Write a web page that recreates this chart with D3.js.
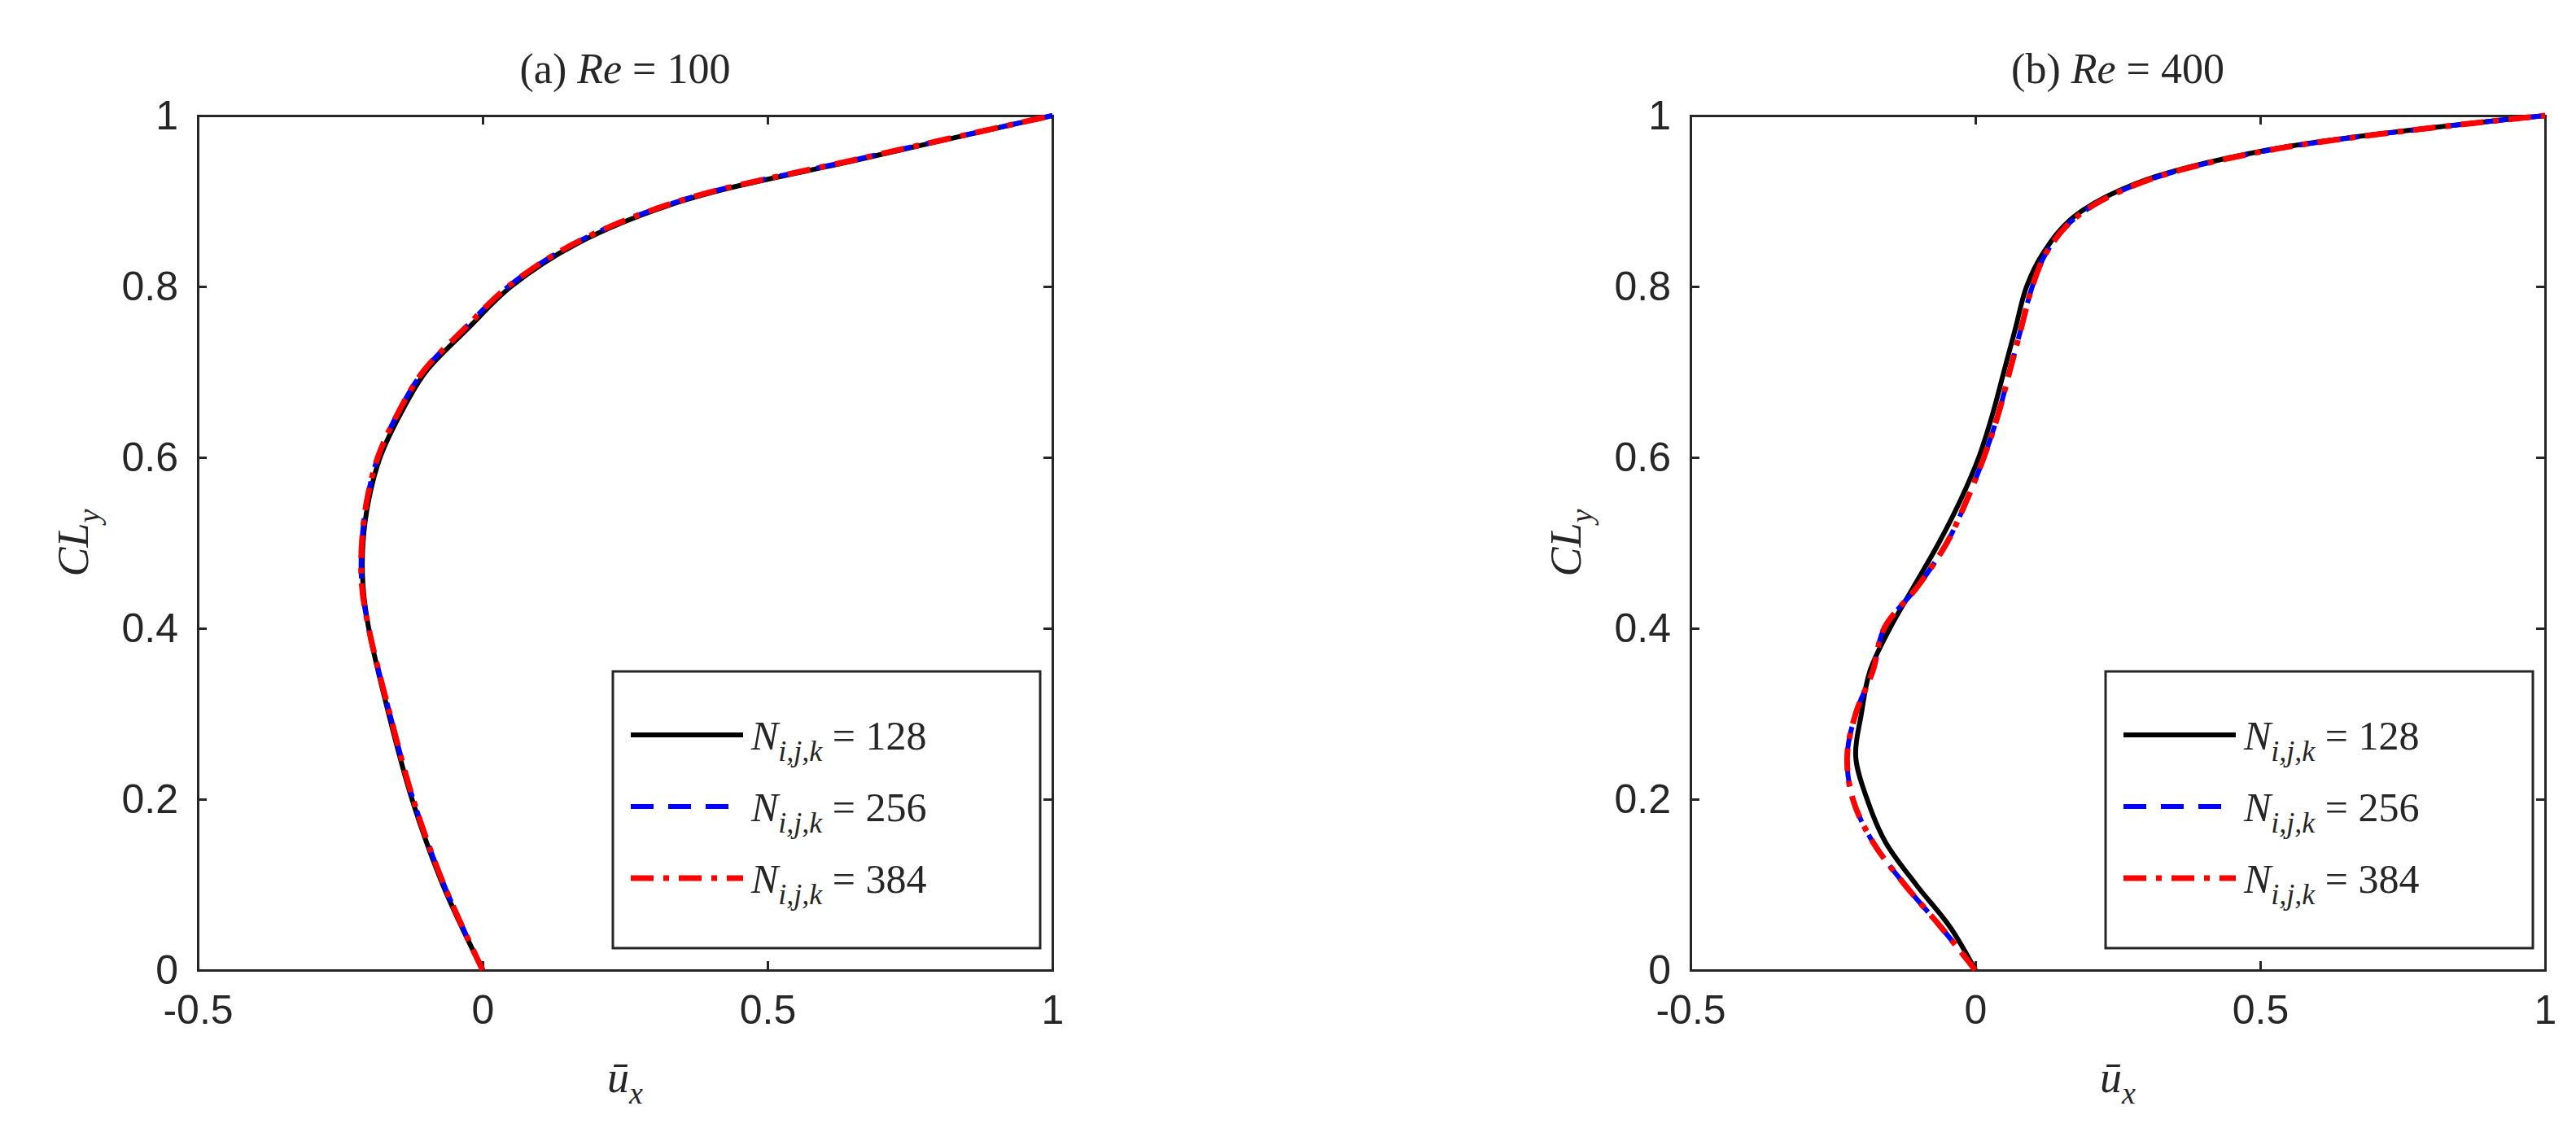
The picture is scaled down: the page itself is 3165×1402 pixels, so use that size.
<!DOCTYPE html>
<html>
<head>
<meta charset="utf-8">
<script src="https://cdn.jsdelivr.net/npm/d3@7"></script>
<style>
body { margin: 0; background: #fff; }
text { fill: #262626; }
</style>
</head>
<body>
<svg id="chart" width="3165" height="1402"></svg>
<script>
// CL_y positions shared by the profiles
const yA = [0, 0.1, 0.2, 0.3, 0.4, 0.45, 0.5, 0.55, 0.6, 0.65, 0.7, 0.75, 0.8, 0.85, 0.9, 0.95, 1.0];
const uA128 = [0, -0.07, -0.124, -0.165, -0.2, -0.21, -0.21, -0.2, -0.18, -0.145, -0.1, -0.027, 0.05, 0.165, 0.35, 0.67, 1.0];
const uA384 = [0, -0.068, -0.122, -0.163, -0.2, -0.212, -0.212, -0.203, -0.184, -0.15, -0.105, -0.033, 0.045, 0.16, 0.345, 0.665, 1.0];

const yB = [0, 0.05, 0.1, 0.15, 0.2, 0.25, 0.3, 0.35, 0.4, 0.45, 0.5, 0.55, 0.6, 0.65, 0.7, 0.75, 0.8, 0.84, 0.88, 0.92, 0.96, 1.0];
const uB128 = [0, -0.044, -0.104, -0.158, -0.19, -0.21, -0.2, -0.185, -0.15, -0.107, -0.064, -0.026, 0.006, 0.03, 0.05, 0.07, 0.09, 0.12, 0.17, 0.28, 0.515, 1.0];
const uB384 = [0, -0.06, -0.124, -0.18, -0.215, -0.225, -0.21, -0.18, -0.16, -0.1, -0.05, -0.015, 0.015, 0.04, 0.06, 0.08, 0.1, 0.125, 0.175, 0.285, 0.52, 1.0];

const xTicks = [-0.5, 0, 0.5, 1];
const yTicks = [0, 0.2, 0.4, 0.6, 0.8, 1];
const legendLabels = ['128', '256', '384'];

const panels = [
  { left: 243, tag: '(a)', re: '100', y: yA, s: [uA128, uA384, uA384] },
  { left: 2077, tag: '(b)', re: '400', y: yB, s: [uB128, uB384, uB384] }
];
const plotTop = 142, size = 1050;
const styles = [
  { color: '#000', width: 6, dash: null },
  { color: '#0000ff', width: 6, dash: '28,18' },
  { color: '#ff0000', width: 7, dash: '28,12,7,12' }
];

const svg = d3.select('#chart');

panels.forEach(p => {
  const g = svg.append('g').attr('transform', `translate(${p.left},${plotTop})`);
  const x = d3.scaleLinear().domain([-0.5, 1]).range([0, size]);
  const y = d3.scaleLinear().domain([0, 1]).range([size, 0]);

  const fmt = d => d === 0 ? '0' : String(d);
  // axes, ticks inward
  g.append('g').attr('transform', `translate(0,${size})`)
    .call(d3.axisBottom(x).tickValues(xTicks).tickSize(-11).tickPadding(30).tickFormat(fmt));
  g.append('g').call(d3.axisTop(x).tickValues(xTicks).tickSize(-11).tickFormat(''));
  g.append('g').call(d3.axisLeft(y).tickValues(yTicks).tickSize(-11).tickPadding(24).tickFormat(fmt));
  g.append('g').attr('transform', `translate(${size},0)`)
    .call(d3.axisRight(y).tickValues(yTicks).tickSize(-11).tickFormat(''));
  g.selectAll('.domain, .tick line').attr('stroke', '#262626').attr('stroke-width', 3);
  g.selectAll('.tick text').style('font-family', 'Liberation Sans, Arial').style('font-size', '50px').attr('fill', '#262626');

  const line = d3.line().curve(d3.curveCatmullRom.alpha(0.5));
  p.s.forEach((u, i) => {
    const st = styles[i];
    g.append('path')
      .attr('d', line(p.y.map((v, k) => [x(u[k]), y(v)])))
      .attr('fill', 'none')
      .attr('stroke', st.color)
      .attr('stroke-width', st.width)
      .attr('stroke-dasharray', st.dash);
  });

  // title
  const t = g.append('text').attr('x', size / 2).attr('y', -40).attr('text-anchor', 'middle')
    .style('font-family', 'Liberation Serif, DejaVu Serif').style('font-size', '52px');
  t.append('tspan').text(p.tag + ' ');
  t.append('tspan').style('font-style', 'italic').text('Re');
  t.append('tspan').text(' = ' + p.re);

  // axis labels
  const xl = g.append('text').attr('x', size / 2).attr('y', size + 150).attr('text-anchor', 'middle')
    .style('font-family', 'Liberation Serif, DejaVu Serif').style('font-size', '54px').style('font-style', 'italic');
  xl.append('tspan').text('ū');
  xl.append('tspan').attr('dy', 14).style('font-size', '38px').text('x');
  const yl = g.append('text').attr('transform', `translate(-135,${size / 2}) rotate(-90)`).attr('text-anchor', 'middle')
    .style('font-family', 'Liberation Serif, DejaVu Serif').style('font-size', '54px').style('font-style', 'italic');
  yl.append('tspan').text('CL');
  yl.append('tspan').attr('dy', 14).style('font-size', '38px').text('y');

  // legend
  const lg = g.append('g').attr('transform', `translate(${size - 540},${size - 367})`);
  lg.append('rect').attr('width', 525).attr('height', 340).attr('fill', '#fff')
    .attr('stroke', '#262626').attr('stroke-width', 3);
  legendLabels.forEach((lab, i) => {
    const yy = 78 + i * 88;
    const st = styles[i];
    lg.append('line').attr('x1', 22).attr('x2', 160).attr('y1', yy).attr('y2', yy)
      .attr('stroke', st.color).attr('stroke-width', st.width).attr('stroke-dasharray', st.dash);
    const tx = lg.append('text').attr('x', 170).attr('y', yy + 18)
      .style('font-family', 'Liberation Serif, DejaVu Serif').style('font-size', '50px');
    tx.append('tspan').style('font-style', 'italic').text('N');
    tx.append('tspan').attr('dy', 14).style('font-size', '36px').style('font-style', 'italic').text('i,j,k');
    tx.append('tspan').attr('dy', -14).text(' = ' + lab);
  });
});
</script>
</body>
</html>
